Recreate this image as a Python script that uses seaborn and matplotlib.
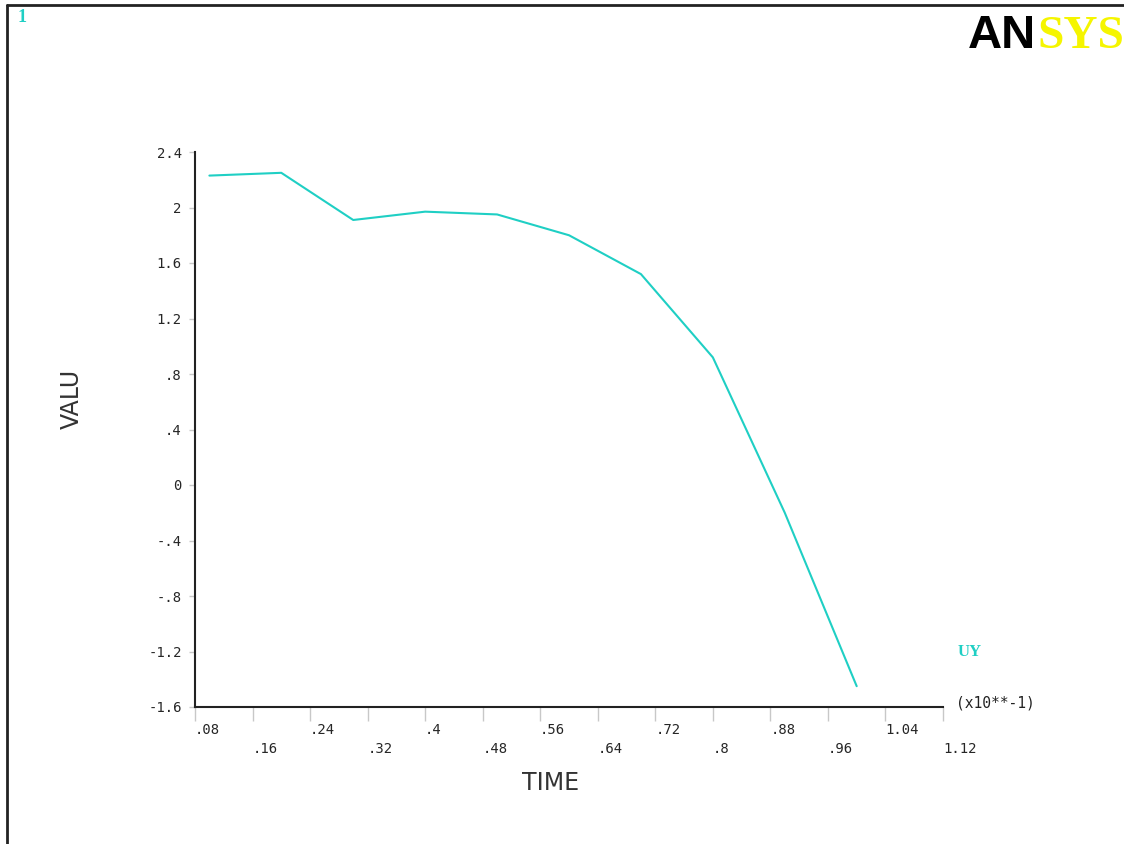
import numpy as np
import pandas as pd
import matplotlib
matplotlib.use("Agg")
import matplotlib.pyplot as plt
from matplotlib.lines import Line2D
import seaborn as sns

# values
time = [0.1, 0.2, 0.3, 0.4, 0.5, 0.6, 0.7, 0.8, 0.9, 1.0]
uy = [2.23, 2.25, 1.91, 1.97, 1.95, 1.80, 1.52, 0.92, -0.20, -1.45]

x_ticks = [0.08, 0.16, 0.24, 0.32, 0.40, 0.48, 0.56, 0.64, 0.72, 0.80, 0.88, 0.96, 1.04, 1.12]
x_labels = [".08", ".16", ".24", ".32", ".4", ".48", ".56", ".64", ".72", ".8", ".88", ".96", "1.04", "1.12"]
y_ticks = [2.4, 2.0, 1.6, 1.2, 0.8, 0.4, 0.0, -0.4, -0.8, -1.2, -1.6]
y_labels = ["2.4", "2", "1.6", "1.2", ".8", ".4", "0", "-.4", "-.8", "-1.2", "-1.6"]

df = pd.DataFrame({"TIME": time, "UY": uy})

sns.set_style("white")
plt.rcParams["font.family"] = ["DejaVu Sans"]

cyan = "#1fcfc4"
tick_gray = "#c8c8c8"

fig = plt.figure(figsize=(11.24, 8.44), dpi=100)
ax = fig.add_axes([195 / 1124, 1 - 707 / 844, (943 - 195) / 1124, (707 - 152) / 844])

sns.lineplot(data=df, x="TIME", y="UY", ax=ax, color=cyan, linewidth=1.5)

ax.set_xlim(0.08, 1.12)
ax.set_ylim(-1.6, 2.4)

# alternate x tick labels between two rows, as ANSYS does
ax.set_xticks(x_ticks)
ax.set_xticklabels([lab if i % 2 == 0 else "\n" + lab for i, lab in enumerate(x_labels)],
                   ha="left", family="DejaVu Sans Mono", fontsize=10, linespacing=1.45)
ax.set_yticks(y_ticks)
ax.set_yticklabels(y_labels, family="DejaVu Sans Mono", fontsize=10)
ax.tick_params(axis="x", length=10, width=1, color=tick_gray, pad=1.5, direction="out", bottom=True)
ax.tick_params(axis="y", length=4, width=1, color=tick_gray, pad=5.5, direction="out", left=True)

for s in ["top", "right"]:
    ax.spines[s].set_visible(False)
for s in ["left", "bottom"]:
    ax.spines[s].set_color("#222222")
    ax.spines[s].set_linewidth(1.5)

ax.set_xlabel("")
ax.set_ylabel("")
fig.text(551 / 1124, 1 - 783 / 844, "TIME", ha="center", va="center", fontsize=17, color="#333333")
fig.text(72 / 1124, 1 - 399 / 844, "VALU", ha="center", va="center", rotation=90, fontsize=17, color="#333333")

# legend label and scale note
fig.text(958 / 1124, 1 - 652 / 844, "UY", ha="left", va="center", color=cyan,
         family="Liberation Serif", fontweight="bold", fontsize=12)
fig.text(956 / 1124, 1 - 703 / 844, "(x10**-1)", ha="left", va="center", color="#222222",
         family="DejaVu Sans Mono", fontsize=10.5)

# window number and logo
fig.text(18 / 1124, 1 - 17 / 844, "1", ha="left", va="center", color=cyan,
         family="Liberation Serif", fontweight="bold", fontsize=13)
fig.text(968 / 1124, 1 - 48 / 844, "AN", ha="left", va="baseline", color="black",
         family="Liberation Sans", fontweight="bold", fontsize=34)
fig.text(1037 / 1124, 1 - 48 / 844, "SYS", ha="left", va="baseline", color="#f5f500",
         family="Liberation Serif", fontweight="bold", fontsize=34)

# window frame (top and left edges)
fig.add_artist(Line2D([7 / 1124, 1], [1 - 5 / 844, 1 - 5 / 844], color="#222222", lw=2, transform=fig.transFigure))
fig.add_artist(Line2D([7 / 1124, 7 / 1124], [0, 1 - 5 / 844], color="#222222", lw=2, transform=fig.transFigure))

fig.savefig("out.png", dpi=100)
